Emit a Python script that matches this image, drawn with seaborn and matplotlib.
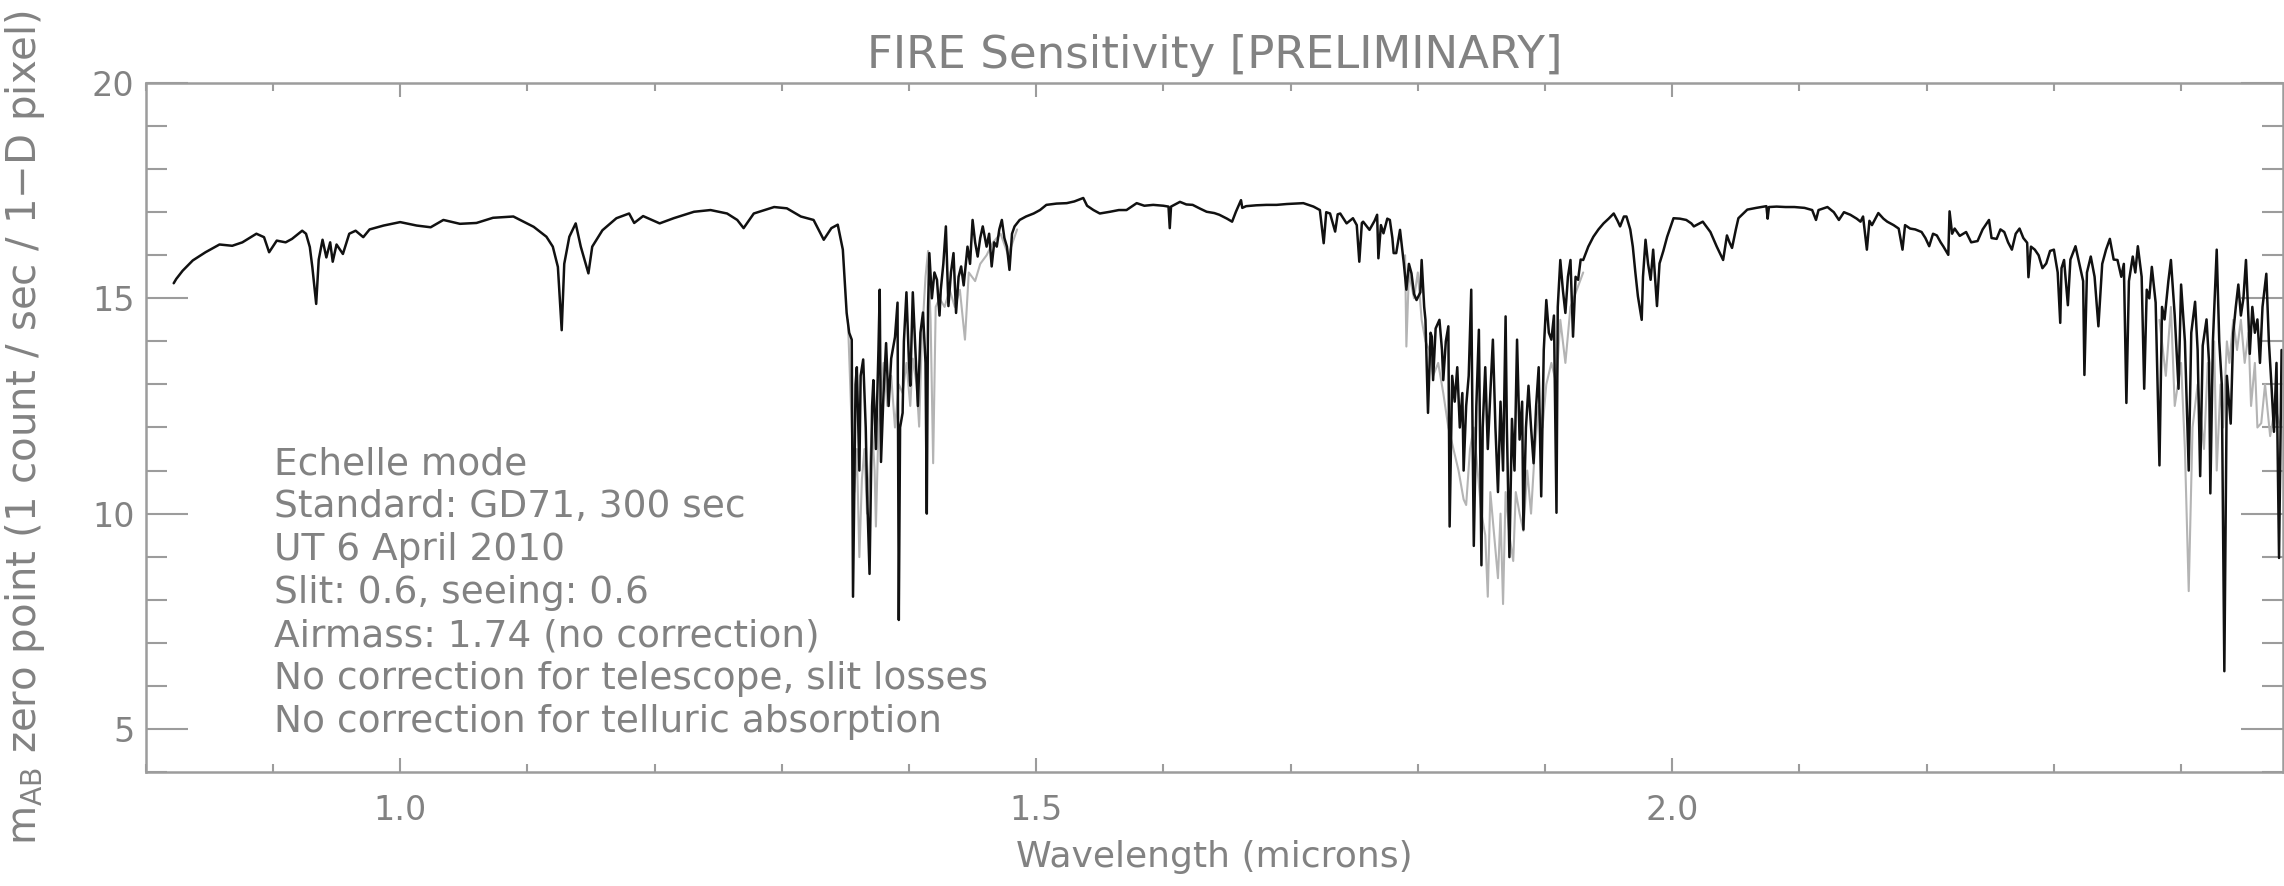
import numpy as np
import pandas as pd
import matplotlib
matplotlib.use("Agg")
import matplotlib.pyplot as plt
from matplotlib.ticker import MultipleLocator, FixedLocator
import seaborn as sns

# ---------------- data (wavelength in microns, m_AB zero point) ----------------
zy_band = [(0.822, 15.35), (0.824, 15.45), (0.829, 15.64), (0.837, 15.88), (0.847, 16.07),
           (0.858, 16.25), (0.868, 16.22), (0.876, 16.30), (0.887, 16.50), (0.893, 16.42),
           (0.897, 16.07), (0.903, 16.34), (0.910, 16.30), (0.915, 16.38), (0.923, 16.57),
           (0.926, 16.50), (0.929, 16.19), (0.931, 15.72), (0.934, 14.87), (0.936, 15.90),
           (0.939, 16.36), (0.942, 15.95), (0.945, 16.30), (0.947, 15.85), (0.950, 16.25),
           (0.955, 16.03), (0.960, 16.50), (0.965, 16.57), (0.971, 16.42), (0.976, 16.60),
           (0.987, 16.69), (1.000, 16.77), (1.013, 16.69), (1.024, 16.65), (1.034, 16.82),
           (1.047, 16.73), (1.060, 16.75), (1.073, 16.87), (1.089, 16.90), (1.105, 16.66),
           (1.115, 16.43), (1.120, 16.20), (1.124, 15.73), (1.127, 14.26), (1.129, 15.80),
           (1.133, 16.43), (1.138, 16.74), (1.142, 16.20), (1.148, 15.58), (1.151, 16.20),
           (1.159, 16.58), (1.170, 16.86), (1.180, 16.97), (1.184, 16.75), (1.191, 16.91),
           (1.204, 16.74), (1.215, 16.86), (1.231, 17.01), (1.244, 17.05), (1.257, 16.97),
           (1.265, 16.82), (1.270, 16.63), (1.278, 16.97), (1.294, 17.12), (1.304, 17.09),
           (1.315, 16.90), (1.325, 16.82), (1.333, 16.36), (1.339, 16.63), (1.344, 16.71)]

h2o_band_a = [(1.348, 16.13), (1.351, 14.66), (1.353, 14.20), (1.355, 14.04), (1.356, 8.07),
              (1.358, 13.00), (1.359, 13.40), (1.361, 11.00), (1.362, 13.20), (1.364, 13.58),
              (1.366, 12.00), (1.367, 10.55), (1.369, 8.60), (1.371, 12.50), (1.372, 13.10),
              (1.374, 11.50), (1.376, 13.80), (1.377, 15.20), (1.378, 11.20), (1.380, 12.80),
              (1.382, 13.96), (1.384, 12.50), (1.386, 13.60), (1.389, 14.10), (1.391, 14.90),
              (1.392, 7.53), (1.393, 12.00), (1.395, 12.34), (1.396, 14.00), (1.398, 15.14),
              (1.400, 13.50), (1.401, 12.97), (1.403, 15.14), (1.405, 13.80), (1.407, 12.50),
              (1.409, 14.20), (1.411, 14.67), (1.413, 13.50), (1.414, 10.00), (1.415, 14.80),
              (1.416, 16.05), (1.418, 15.00), (1.420, 15.60), (1.422, 15.43), (1.424, 14.60),
              (1.425, 15.20), (1.427, 15.80), (1.429, 16.67), (1.431, 14.82), (1.433, 15.60),
              (1.435, 16.05), (1.437, 14.66), (1.439, 15.50), (1.441, 15.74), (1.443, 15.30),
              (1.446, 16.20), (1.448, 15.80), (1.450, 16.82), (1.452, 16.30), (1.454, 15.97),
              (1.456, 16.40), (1.458, 16.67), (1.461, 16.20), (1.463, 16.50), (1.465, 15.74),
              (1.467, 16.30), (1.469, 16.20), (1.471, 16.60), (1.473, 16.82), (1.475, 16.40),
              (1.477, 16.20), (1.479, 15.66), (1.481, 16.50), (1.483, 16.67), (1.487, 16.82),
              (1.492, 16.90), (1.498, 16.97), (1.503, 17.05), (1.508, 17.17), (1.516, 17.20),
              (1.524, 17.21), (1.530, 17.25), (1.537, 17.33)]

h_band = [(1.540, 17.15), (1.545, 17.05), (1.550, 16.97), (1.558, 17.01), (1.565, 17.05),
          (1.571, 17.05), (1.579, 17.21), (1.585, 17.15), (1.592, 17.17), (1.600, 17.15),
          (1.604, 17.13), (1.605, 16.63), (1.606, 17.13), (1.613, 17.24), (1.618, 17.18),
          (1.623, 17.17), (1.629, 17.08), (1.634, 17.01), (1.640, 16.98), (1.644, 16.94),
          (1.650, 16.85), (1.654, 16.78), (1.657, 17.01), (1.661, 17.28), (1.662, 17.10),
          (1.665, 17.14), (1.673, 17.16), (1.681, 17.17), (1.689, 17.17), (1.697, 17.19),
          (1.704, 17.20), (1.710, 17.21), (1.718, 17.13), (1.723, 17.05), (1.726, 16.28),
          (1.728, 17.00), (1.731, 16.97), (1.735, 16.55), (1.737, 16.95), (1.739, 16.97),
          (1.744, 16.74), (1.749, 16.86), (1.752, 16.70), (1.754, 15.85), (1.756, 16.75),
          (1.757, 16.78), (1.762, 16.59), (1.766, 16.80), (1.768, 16.94), (1.769, 15.93),
          (1.771, 16.70), (1.773, 16.51), (1.776, 16.85), (1.778, 16.82)]

h2o_band_b = [(1.780, 16.40), (1.781, 16.05), (1.783, 16.05), (1.786, 16.59), (1.789, 15.81),
              (1.791, 15.20), (1.793, 15.80), (1.795, 15.58), (1.797, 15.10), (1.799, 14.96),
              (1.802, 15.14), (1.803, 15.89), (1.805, 14.80), (1.806, 14.50), (1.808, 12.34),
              (1.810, 14.20), (1.811, 14.11), (1.812, 13.10), (1.814, 14.30), (1.817, 14.50),
              (1.819, 13.80), (1.820, 13.10), (1.822, 14.00), (1.824, 14.35), (1.825, 9.70),
              (1.827, 13.20), (1.829, 12.60), (1.831, 13.40), (1.833, 12.00), (1.835, 12.80),
              (1.836, 11.00), (1.838, 12.50), (1.840, 13.20), (1.842, 15.20), (1.843, 12.00),
              (1.844, 9.25), (1.846, 12.50), (1.848, 14.27), (1.850, 8.80), (1.851, 12.00),
              (1.853, 13.40), (1.855, 11.50), (1.857, 12.80), (1.859, 14.04), (1.861, 12.00),
              (1.863, 10.50), (1.865, 12.60), (1.867, 11.00), (1.869, 14.58), (1.870, 12.00),
              (1.872, 8.99), (1.874, 12.20), (1.876, 11.00), (1.878, 14.04), (1.880, 11.72),
              (1.882, 12.60), (1.883, 9.63), (1.885, 12.00), (1.887, 12.97), (1.889, 12.00),
              (1.891, 11.17), (1.893, 12.50), (1.895, 13.40), (1.897, 10.40), (1.899, 13.80),
              (1.901, 14.96), (1.903, 14.20), (1.905, 14.04), (1.907, 14.60), (1.909, 10.02),
              (1.910, 14.80), (1.912, 15.89), (1.914, 15.20), (1.916, 14.66), (1.918, 15.50),
              (1.920, 15.89), (1.922, 14.11), (1.924, 15.50), (1.926, 15.43), (1.928, 15.90),
              (1.930, 15.89), (1.934, 16.20), (1.938, 16.43), (1.942, 16.60), (1.946, 16.74),
              (1.950, 16.85), (1.954, 16.97), (1.957, 16.80), (1.959, 16.67), (1.962, 16.90),
              (1.964, 16.90), (1.967, 16.60), (1.969, 16.20), (1.971, 15.60), (1.973, 15.05),
              (1.976, 14.50), (1.977, 15.50), (1.979, 16.36), (1.981, 15.80), (1.983, 15.43),
              (1.985, 16.13), (1.988, 14.82), (1.990, 15.81), (1.993, 16.10), (1.996, 16.43),
              (2.001, 16.86), (2.006, 16.85), (2.011, 16.82), (2.015, 16.74), (2.017, 16.67),
              (2.024, 16.78)]

k_band = [(2.030, 16.54), (2.035, 16.20), (2.040, 15.89), (2.043, 16.46), (2.045, 16.30),
          (2.047, 16.17), (2.050, 16.60), (2.052, 16.86), (2.059, 17.06), (2.066, 17.10),
          (2.074, 17.14), (2.075, 16.85), (2.076, 17.12), (2.082, 17.13), (2.089, 17.12),
          (2.096, 17.12), (2.104, 17.10), (2.110, 17.05), (2.113, 16.82), (2.115, 17.05),
          (2.122, 17.12), (2.127, 17.00), (2.131, 16.82), (2.135, 17.00), (2.140, 16.94),
          (2.145, 16.85), (2.148, 16.78), (2.150, 16.90), (2.153, 16.13), (2.155, 16.80),
          (2.157, 16.70), (2.162, 16.98), (2.166, 16.85), (2.169, 16.78), (2.174, 16.70),
          (2.178, 16.62), (2.181, 16.13), (2.183, 16.70), (2.187, 16.62), (2.191, 16.60),
          (2.196, 16.54), (2.199, 16.40), (2.202, 16.21), (2.205, 16.50), (2.208, 16.46),
          (2.211, 16.30), (2.213, 16.21), (2.217, 16.01), (2.218, 17.02), (2.220, 16.50),
          (2.222, 16.62), (2.226, 16.45), (2.231, 16.54), (2.235, 16.30), (2.240, 16.33),
          (2.244, 16.60), (2.249, 16.82), (2.251, 16.40), (2.255, 16.38), (2.258, 16.60),
          (2.261, 16.54), (2.264, 16.30), (2.267, 16.13), (2.270, 16.50), (2.273, 16.62),
          (2.276, 16.40), (2.279, 16.29), (2.280, 15.49), (2.282, 16.20), (2.285, 16.13),
          (2.288, 16.00), (2.291, 15.70), (2.294, 15.81), (2.297, 16.10), (2.300, 16.13),
          (2.303, 15.60), (2.305, 14.43), (2.306, 15.70), (2.308, 15.89), (2.311, 14.84),
          (2.313, 15.90), (2.317, 16.21), (2.320, 15.80), (2.323, 15.40), (2.324, 13.22),
          (2.326, 15.60), (2.329, 15.97), (2.332, 15.50), (2.335, 14.35), (2.338, 15.80),
          (2.341, 16.13), (2.344, 16.38), (2.347, 15.90), (2.350, 15.89), (2.353, 15.50),
          (2.355, 15.80), (2.357, 12.57), (2.359, 15.40), (2.362, 15.97), (2.364, 15.60),
          (2.366, 16.21), (2.369, 15.50), (2.371, 12.90), (2.373, 15.20), (2.375, 15.00),
          (2.377, 15.73), (2.380, 14.90), (2.383, 11.12), (2.385, 14.80), (2.387, 14.51),
          (2.390, 15.40), (2.392, 15.89), (2.395, 14.60), (2.398, 12.90), (2.400, 15.32),
          (2.403, 14.00), (2.406, 11.00), (2.408, 14.20), (2.411, 14.92), (2.413, 13.80),
          (2.415, 10.87), (2.417, 13.90), (2.420, 14.51), (2.422, 13.50), (2.423, 10.47),
          (2.425, 14.00), (2.428, 16.13), (2.430, 14.00), (2.432, 13.00), (2.434, 6.34),
          (2.436, 13.20), (2.439, 12.09), (2.441, 14.20), (2.443, 14.80), (2.445, 15.32),
          (2.447, 14.60), (2.449, 15.00), (2.451, 15.89), (2.453, 14.50), (2.454, 13.71),
          (2.456, 14.80), (2.458, 14.20), (2.460, 14.51), (2.462, 13.50), (2.464, 14.80),
          (2.467, 15.57), (2.469, 14.00), (2.471, 13.00), (2.473, 11.90), (2.475, 13.50),
          (2.477, 8.97), (2.479, 13.80)]

# second (grey) exposure, visible where it dips below the black one
grey_band_a = [(1.352, 14.5), (1.355, 12.0), (1.357, 10.5), (1.359, 11.5), (1.361, 8.99),
               (1.363, 10.8), (1.365, 11.5), (1.367, 10.0), (1.369, 11.0), (1.371, 12.0),
               (1.373, 11.0), (1.374, 9.70), (1.376, 12.0), (1.378, 12.8), (1.380, 13.5),
               (1.383, 12.5), (1.386, 13.2), (1.389, 12.0), (1.392, 13.0), (1.395, 12.8),
               (1.398, 13.5), (1.401, 12.5), (1.403, 13.6), (1.406, 13.0), (1.408, 12.02),
               (1.410, 14.0), (1.413, 15.5), (1.415, 16.1), (1.417, 14.5), (1.419, 11.17),
               (1.421, 14.8), (1.424, 15.0), (1.428, 14.8), (1.432, 15.2), (1.436, 14.8),
               (1.440, 15.2), (1.444, 14.04), (1.447, 15.6), (1.452, 15.4), (1.456, 15.8),
               (1.461, 16.0), (1.466, 16.3), (1.472, 16.5), (1.478, 16.0), (1.485, 16.6)]

grey_band_b = [(1.790, 16.0), (1.791, 13.88), (1.793, 15.6), (1.797, 15.0), (1.800, 15.6),
               (1.803, 14.5), (1.806, 14.0), (1.809, 13.8), (1.812, 13.2), (1.816, 13.5),
               (1.820, 12.8), (1.824, 12.0), (1.828, 11.5), (1.832, 11.0), (1.836, 10.33),
               (1.838, 10.2), (1.841, 11.5), (1.844, 12.0), (1.847, 11.0), (1.850, 10.0),
               (1.853, 9.5), (1.855, 8.07), (1.857, 10.5), (1.860, 9.5), (1.863, 8.50),
               (1.865, 10.0), (1.867, 7.90), (1.869, 10.5), (1.872, 9.5), (1.875, 8.9),
               (1.877, 10.5), (1.880, 10.0), (1.883, 9.6), (1.886, 11.0), (1.889, 10.0),
               (1.892, 11.5), (1.895, 12.5), (1.898, 12.0), (1.901, 13.0), (1.905, 13.5),
               (1.909, 13.0), (1.912, 14.5), (1.916, 13.5), (1.920, 14.8), (1.925, 15.2),
               (1.930, 15.6)]

grey_band_k = [(2.383, 14.5), (2.388, 13.2), (2.392, 14.8), (2.395, 12.5), (2.400, 13.5),
               (2.403, 11.5), (2.406, 8.20), (2.409, 12.0), (2.413, 13.0), (2.418, 11.5),
               (2.421, 13.5), (2.423, 12.5), (2.426, 14.0), (2.428, 11.0), (2.431, 13.0),
               (2.433, 12.0), (2.436, 14.0), (2.438, 13.5), (2.441, 14.5), (2.444, 13.8),
               (2.447, 14.5), (2.450, 13.5), (2.453, 14.2), (2.455, 12.5), (2.458, 13.5),
               (2.460, 12.0), (2.463, 12.10), (2.466, 13.0), (2.470, 11.8), (2.474, 12.5),
               (2.478, 12.0)]

x_major_ticks = [1.0, 1.5, 2.0]
x_tick_labels = ["1.0", "1.5", "2.0"]
y_major_ticks = [5, 10, 15, 20]
y_tick_labels = ["5", "10", "15", "20"]

title_text = "FIRE Sensitivity [PRELIMINARY]"
x_label = "Wavelength (microns)"
y_label = r"m$_\mathregular{AB}$ zero point (1 count / sec / 1$-$D pixel)"
notes = ["Echelle mode",
         "Standard: GD71, 300 sec",
         "UT 6 April 2010",
         "Slit: 0.6, seeing: 0.6",
         "Airmass: 1.74 (no correction)",
         "No correction for telescope, slit losses",
         "No correction for telluric absorption"]

# ---------------- build frames ----------------
def to_df(pairs):
    return pd.DataFrame(pairs, columns=["wave", "mag"])

black_df = pd.concat([to_df(zy_band), to_df(h2o_band_a), to_df(h_band),
                      to_df(h2o_band_b), to_df(k_band)], ignore_index=True)
grey_dfs = [to_df(grey_band_a), to_df(grey_band_b), to_df(grey_band_k)]

# ---------------- style ----------------
sns.set_style("white")
plt.rcParams["font.family"] = ["DejaVu Sans"]
plt.rcParams["mathtext.fontset"] = "dejavusans"

axis_grey = "#9c9c9c"
text_grey = "#828282"

fig = plt.figure(figsize=(22.84, 8.86), dpi=100)
ax = fig.add_axes([0.0638, 0.1287, 0.9357, 0.7776])

for gdf in grey_dfs:
    sns.lineplot(data=gdf, x="wave", y="mag", ax=ax, color="#b4b4b4", lw=1.5,
                 estimator=None, sort=True, legend=False)
sns.lineplot(data=black_df, x="wave", y="mag", ax=ax, color="#111111", lw=1.8,
             estimator=None, sort=True, legend=False)

ax.set_xlim(0.8, 2.48)
ax.set_ylim(4, 20)

ax.xaxis.set_major_locator(FixedLocator(x_major_ticks))
ax.set_xticklabels(x_tick_labels)
ax.xaxis.set_minor_locator(MultipleLocator(0.1))
ax.yaxis.set_major_locator(FixedLocator(y_major_ticks))
ax.set_yticklabels(y_tick_labels)
ax.yaxis.set_minor_locator(MultipleLocator(1))

for s in ax.spines.values():
    s.set_color(axis_grey)
    s.set_linewidth(1.8)
    s.set_visible(True)

ax.tick_params(axis="x", which="major", direction="in", length=10, width=1.5,
               color=axis_grey, top=True, bottom=True, labelsize=24,
               labelcolor=text_grey, pad=16)
ax.tick_params(axis="x", which="minor", direction="in", length=6, width=1.5,
               color=axis_grey, top=True, bottom=True)
ax.tick_params(axis="y", which="major", direction="in", length=30, width=1.5,
               color=axis_grey, left=True, right=True, labelsize=24,
               labelcolor=text_grey, pad=8)
ax.tick_params(axis="y", which="minor", direction="in", length=15, width=1.5,
               color=axis_grey, left=True, right=True)

ax.set_xlabel(x_label, fontsize=26, color=text_grey, labelpad=9)
ax.set_ylabel(y_label, fontsize=29, color=text_grey)
ax.yaxis.set_label_coords(-0.046, 0.5)
ax.set_title(title_text, fontsize=32.5, color=text_grey, pad=11)

for i, line in enumerate(notes):
    ax.text(0.8 + (274 - 145.7) / 1272.0, 11.15 - i * 1.0, line, fontsize=27,
            color=text_grey, ha="left", va="center")

fig.savefig("out.png", dpi=100)
